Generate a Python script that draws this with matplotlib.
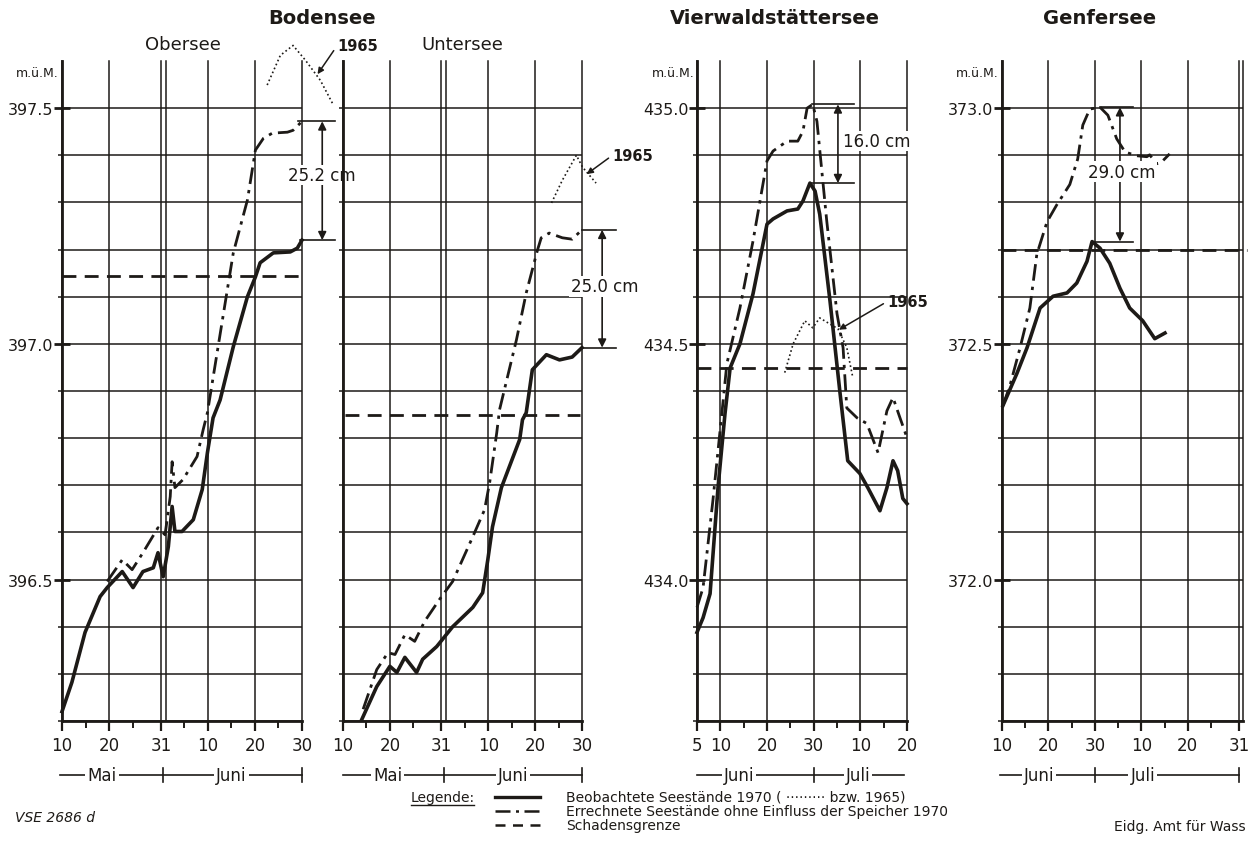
import numpy as np
import matplotlib
matplotlib.use('Agg')
import matplotlib.pyplot as plt
from matplotlib.lines import Line2D

# x axis in days: Bodensee  Mai d -> d, Juni d -> 31 + d
#                 others    Juni d -> d, Juli d -> 30 + d

# ---- Bodensee, Obersee
ober_obs_x = [10, 12.1, 14.9, 18.1, 19.6, 22.8, 25.1, 27.2, 29.4, 30.4, 31.5, 32.6, 33.4, 34.0, 35.5,
              37.9, 39.8, 40.9, 42.1, 43.6, 46.4, 49.4, 51.1, 52.1, 54.9, 58.5, 60.0, 61.0]
ober_obs_y = [396.220, 396.282, 396.388, 396.464, 396.483, 396.517, 396.483, 396.517, 396.525, 396.557,
              396.506, 396.570, 396.655, 396.602, 396.602, 396.627, 396.691, 396.769, 396.843, 396.881,
              396.994, 397.100, 397.142, 397.172, 397.193, 397.195, 397.203, 397.220]
ober_calc_x = [19.6, 22.8, 24.9, 27.2, 30.4, 31.9, 33.0, 33.4, 34.0, 35.7, 38.7, 40.0, 40.9, 46.4,
               49.4, 51.1, 52.8, 54.7, 57.9, 59.1, 60.6, 61.0]
ober_calc_y = [396.496, 396.542, 396.521, 396.557, 396.610, 396.595, 396.676, 396.750, 396.695, 396.712,
               396.761, 396.818, 396.854, 397.193, 397.305, 397.411, 397.436, 397.447, 397.449, 397.453,
               397.468, 397.472]
ober_1965_x = [53.6, 56.4, 59.1, 61.7, 64.9, 67.7]
ober_1965_y = [397.549, 397.612, 397.633, 397.602, 397.559, 397.506]
ober_limit = 397.144

# ---- Bodensee, Untersee
unter_obs_x = [14.0, 17.2, 20.0, 21.5, 23.2, 25.7, 27.0, 30.0, 33.4, 37.7, 39.8, 40.9, 41.9, 43.8,
               47.7, 48.3, 49.1, 50.4, 53.4, 56.2, 58.9, 61.0]
unter_obs_y = [396.203, 396.273, 396.316, 396.303, 396.335, 396.303, 396.331, 396.358, 396.400, 396.441,
               396.472, 396.542, 396.612, 396.695, 396.797, 396.839, 396.854, 396.945, 396.977, 396.966,
               396.972, 396.992]
unter_calc_x = [14.3, 17.2, 19.6, 21.1, 23.2, 25.3, 27.4, 30.6, 33.4, 37.7, 40.2, 41.3, 42.8, 43.4,
                47.0, 49.1, 51.5, 52.3, 54.0, 56.8, 58.9, 61.0]
unter_calc_y = [396.225, 396.309, 396.345, 396.341, 396.383, 396.369, 396.411, 396.458, 396.496, 396.591,
                396.648, 396.706, 396.811, 396.860, 397.008, 397.108, 397.199, 397.225, 397.235, 397.225,
                397.222, 397.242]
unter_1965_x = [54.5, 56.8, 59.8, 61.1, 64.0]
unter_1965_y = [397.299, 397.347, 397.400, 397.375, 397.341]
unter_limit = 396.850

# ---- Vierwaldstättersee
vier_obs_x = [5.0, 6.3, 7.8, 9.5, 11.0, 12.1, 14.2, 17.0, 20.0, 21.3, 24.3, 26.6, 27.7, 29.2, 30.3,
              31.3, 33.5, 35.6, 37.3, 39.9, 41.6, 44.2, 45.7, 47.0, 48.0, 49.1, 50.0]
vier_obs_y = [433.888, 433.919, 433.970, 434.195, 434.352, 434.449, 434.500, 434.606, 434.754, 434.765,
              434.782, 434.786, 434.803, 434.841, 434.824, 434.775, 434.591, 434.400, 434.252,
              434.225, 434.195, 434.146, 434.195, 434.252, 434.231, 434.172, 434.161]
vier_calc_x = [5.0, 6.3, 8.4, 10.6, 11.4, 14.2, 17.0, 20.0, 21.3, 24.3, 26.6, 27.7, 28.6, 29.8, 30.7,
               32.8, 35.0, 36.3, 37.1, 39.3, 41.4, 43.8, 45.7, 47.0, 48.5, 50.0]
vier_calc_y = [433.941, 433.983, 434.167, 434.379, 434.458, 434.576, 434.718, 434.888, 434.909, 434.930,
               434.930, 434.951, 435.000, 435.008, 434.972, 434.761, 434.564, 434.492, 434.364, 434.343,
               434.331, 434.269, 434.358, 434.386, 434.343, 434.301]
vier_1965_x = [23.8, 25.6, 28.1, 29.8, 31.3, 33.5, 35.2, 37.1, 38.4]
vier_1965_y = [434.439, 434.500, 434.549, 434.534, 434.555, 434.542, 434.532, 434.492, 434.428]
vier_limit = 434.449

# ---- Genfersee
genf_obs_x = [10.2, 13.2, 15.4, 18.2, 21.0, 24.0, 26.1, 28.3, 29.4, 31.1, 33.2, 35.4, 37.5, 40.3, 42.9, 45.1]
genf_obs_y = [372.369, 372.437, 372.492, 372.576, 372.601, 372.608, 372.629, 372.675, 372.717, 372.703,
              372.671, 372.618, 372.576, 372.549, 372.511, 372.523]
genf_calc_x = [10.2, 11.7, 13.9, 16.0, 17.5, 19.7, 21.8, 24.6, 26.3, 27.4, 28.9, 31.1, 32.8, 34.7, 36.5,
               39.0, 41.2, 41.8, 43.3, 44.4, 46.1]
genf_calc_y = [372.369, 372.411, 372.492, 372.576, 372.690, 372.759, 372.795, 372.838, 372.892, 372.964,
               372.998, 373.002, 372.985, 372.935, 372.907, 372.899, 372.897, 372.901, 372.882, 372.886,
               372.903]
genf_limit = 372.700

W, H = 1249, 845
INK = '#1d1a17'
plt.rcParams['font.family'] = ['DejaVu Sans']
plt.rcParams['text.color'] = INK

fig = plt.figure(figsize=(W / 100, H / 100), dpi=100)
fig.patch.set_facecolor('white')


def add_panel(left_px, right_px):
    top_px, bot_px = 62, 722
    return fig.add_axes([left_px / W, 1 - bot_px / H, (right_px - left_px) / W, (bot_px - top_px) / H])


def setup(ax, xlim, ylim, xmajor, xlabels, xminor, ygrid, ymajor, ylabels, doubles):
    ax.set_xlim(xlim)
    ax.set_ylim(ylim)
    ax.patch.set_alpha(0)
    for s in ['top', 'right']:
        ax.spines[s].set_visible(False)
    for s in ['left', 'bottom']:
        ax.spines[s].set_linewidth(2)
        ax.spines[s].set_color(INK)
    for x in list(xmajor) + doubles:
        ax.axvline(x, color=INK, lw=1.1, zorder=1, clip_on=False)
    for y in ygrid:
        ax.axhline(y, color=INK, lw=1.1, zorder=1)
    ax.set_xticks(xmajor)
    ax.set_xticklabels(xlabels, fontsize=12)
    ax.set_xticks(xminor, minor=True)
    ax.tick_params(axis='x', which='major', direction='out', length=7, width=1.6, pad=4, colors=INK)
    ax.tick_params(axis='x', which='minor', direction='out', length=5, width=1.4, colors=INK)
    ax.set_yticks(ymajor)
    ax.set_yticklabels(ylabels, fontsize=11.5)
    ax.set_yticks([y for y in ygrid if min([abs(y - m) for m in ymajor] + [1]) > 1e-6], minor=True)
    ax.tick_params(axis='y', which='major', direction='inout', length=12, width=2, pad=0, colors=INK)
    ax.tick_params(axis='y', which='minor', direction='out', length=3, width=1.1, colors=INK)


def month_bar(ax, start, end, labels, boundary, end_tick):
    tr = ax.get_xaxis_transform()
    yb = -0.082
    ax.plot([start, end], [yb, yb], color=INK, lw=1.2, transform=tr, clip_on=False)
    ax.plot([boundary, boundary], [yb - 0.011, yb + 0.011], color=INK, lw=1.2, transform=tr, clip_on=False)
    if end_tick:
        ax.plot([end, end], [yb - 0.011, yb + 0.011], color=INK, lw=1.2, transform=tr, clip_on=False)
    for text, x in labels:
        ax.text(x, yb, text, transform=tr, ha='center', va='center', fontsize=12,
                bbox=dict(facecolor='white', edgecolor='none', pad=1.5))


def series(ax, ox, oy, cx, cy, limit, lim_x):
    ax.plot(ox, oy, color=INK, lw=2.6, solid_joinstyle='round', zorder=4, clip_on=False)
    ax.plot(cx, cy, color=INK, lw=2.0, linestyle=(0, (6, 2.2, 1.2, 2.2)), zorder=4, clip_on=False)
    ax.plot(lim_x, [limit, limit], color=INK, lw=2.0, linestyle=(0, (5, 3)), zorder=3, clip_on=False)


def diff_arrow(ax, x, top, bottom, x0_top, x0_bot, x1, text, tx, ty, ha='center'):
    ax.plot([x0_top, x1], [top, top], color=INK, lw=1.2, clip_on=False, zorder=5)
    ax.plot([x0_bot, x1], [bottom, bottom], color=INK, lw=1.2, clip_on=False, zorder=5)
    ax.annotate('', xy=(x, top), xytext=(x, bottom), annotation_clip=False,
                arrowprops=dict(arrowstyle='<|-|>', color=INK, lw=1.2, mutation_scale=12,
                                shrinkA=0, shrinkB=0), zorder=5)
    ax.text(tx, ty, text, ha=ha, va='center', fontsize=12, zorder=6,
            bbox=dict(facecolor='white', edgecolor='none', pad=1.0))


def label_1965(ax, xy, xytext):
    ax.annotate('1965', xy=xy, xytext=xytext, fontsize=10.5, fontweight='bold', va='center',
                ha='left', annotation_clip=False,
                arrowprops=dict(arrowstyle='-|>', color=INK, lw=1.1, mutation_scale=9,
                                shrinkA=1, shrinkB=0, relpos=(0, 0.5)))


def unit_label(ax):
    ax.text(-0.012, 0.982, 'm.ü.M.', transform=ax.transAxes, fontsize=9, ha='right', va='center')


# ---------------- Obersee
bod_xmajor = [10, 20, 31, 41, 51, 61]
bod_xlabels = ['10', '20', '31', '10', '20', '30']
bod_xminor = [15, 25, 36, 46, 56]
bod_ygrid = list(np.round(np.arange(396.2, 397.51, 0.1), 1))

ax1 = add_panel(62, 302)
setup(ax1, (10, 61), (396.2, 397.6), bod_xmajor, bod_xlabels, bod_xminor, bod_ygrid,
      [396.5, 397.0, 397.5], ['396.5', '397.0', '397.5'], [32])
series(ax1, ober_obs_x, ober_obs_y, ober_calc_x, ober_calc_y, ober_limit, [10, 60.6])
ax1.plot(ober_1965_x, ober_1965_y, color=INK, lw=1.2, linestyle=(0, (1, 1.6)), clip_on=False, zorder=4)
diff_arrow(ax1, 65.3, ober_calc_y[-1], ober_obs_y[-1], 60.2, 60.6, 68.1, '25.2 cm', 65.3,
           (ober_calc_y[-1] + ober_obs_y[-1]) / 2 + 0.012)
label_1965(ax1, (64.3, 397.572), (68.5, 397.633))
month_bar(ax1, 9.6, 61, [('Mai', 18.5), ('Juni', 46.0)], 31.5, True)
unit_label(ax1)

# ---------------- Untersee
ax2 = add_panel(343, 582)
setup(ax2, (10, 61), (396.2, 397.6), bod_xmajor, bod_xlabels, bod_xminor, bod_ygrid,
      [], [], [32])
series(ax2, unter_obs_x, unter_obs_y, unter_calc_x, unter_calc_y, unter_limit, [10.4, 60.6])
ax2.plot(unter_1965_x, unter_1965_y, color=INK, lw=1.2, linestyle=(0, (1, 1.6)), clip_on=False, zorder=4)
diff_arrow(ax2, 65.3, unter_calc_y[-1], unter_obs_y[-1], 61, 61, 68.3, '25.0 cm', 65.8,
           (unter_calc_y[-1] + unter_obs_y[-1]) / 2 + 0.005)
label_1965(ax2, (62.0, 397.36), (67.5, 397.40))
month_bar(ax2, 10, 61, [('Mai', 19.5), ('Juni', 46.3)], 31.5, True)

# ---------------- Vierwaldstättersee
ax3 = add_panel(697, 907)
setup(ax3, (5, 50), (433.7, 435.1), [5, 10, 20, 30, 40, 50], ['5', '10', '20', '30', '10', '20'],
      [15, 25, 35, 45], list(np.round(np.arange(433.7, 435.01, 0.1), 1)),
      [434.0, 434.5, 435.0], ['434.0', '434.5', '435.0'], [])
series(ax3, vier_obs_x, vier_obs_y, vier_calc_x, vier_calc_y, vier_limit, [5, 50])
ax3.plot(vier_1965_x, vier_1965_y, color=INK, lw=1.2, linestyle=(0, (1, 1.6)), clip_on=False, zorder=4)
diff_arrow(ax3, 35.2, max(vier_calc_y), max(vier_obs_y), 29.6, 29.4, 38.6, '16.0 cm', 36.2,
           434.93, ha='left')
label_1965(ax3, (35.4, 434.53), (45.8, 434.59))
month_bar(ax3, 5, 49.3, [('Juni', 14.0), ('Juli', 39.5)], 30, False)
unit_label(ax3)

# ---------------- Genfersee
ax4 = add_panel(1002, 1243)
setup(ax4, (10, 61.9), (371.7, 373.1), [10, 20, 30, 40, 50, 61], ['10', '20', '30', '10', '20', '31'],
      [15, 25, 35, 45, 55], list(np.round(np.arange(371.7, 373.01, 0.1), 1)),
      [372.0, 372.5, 373.0], ['372.0', '372.5', '373.0'], [61.9])
series(ax4, genf_obs_x, genf_obs_y, genf_calc_x, genf_calc_y, genf_limit, [10, 62.8])
diff_arrow(ax4, 35.4, max(genf_calc_y), max(genf_obs_y), 31.1, 29.4, 38.2, '29.0 cm', 35.8, 372.865)
month_bar(ax4, 9.6, 61, [('Juni', 18.0), ('Juli', 40.3)], 30, True)
unit_label(ax4)

# ---------------- titles
fig.text(322 / W, 1 - 18 / H, 'Bodensee', ha='center', va='center', fontsize=14, fontweight='bold')
fig.text(183 / W, 1 - 45 / H, 'Obersee', ha='center', va='center', fontsize=13)
fig.text(462 / W, 1 - 45 / H, 'Untersee', ha='center', va='center', fontsize=13)
fig.text(775 / W, 1 - 18 / H, 'Vierwaldstättersee', ha='center', va='center', fontsize=14, fontweight='bold')
fig.text(1100 / W, 1 - 18 / H, 'Genfersee', ha='center', va='center', fontsize=14, fontweight='bold')

# ---------------- legend
fig.text(411 / W, 1 - 798 / H, 'Legende:', ha='left', va='center', fontsize=10)
fig.add_artist(Line2D([411 / W, 474 / W], [1 - 806 / H] * 2, color=INK, lw=1))
legend_rows = [('Beobachtete Seestände 1970 ( ········· bzw. 1965)', '-', 2.4),
               ('Errechnete Seestände ohne Einfluss der Speicher 1970', (0, (6, 2.2, 1.2, 2.2)), 1.8),
               ('Schadensgrenze', (0, (4, 3)), 1.8)]
for i, (txt, ls, lw) in enumerate(legend_rows):
    yy = 1 - (798 + 14 * i) / H
    fig.add_artist(Line2D([495 / W, 540 / W], [yy, yy], color=INK, lw=lw, linestyle=ls))
    fig.text(566 / W, yy, txt, ha='left', va='center', fontsize=10)

fig.text(15 / W, 1 - 818 / H, 'VSE 2686 d', ha='left', va='center', fontsize=10, style='italic')
fig.text(1246 / W, 1 - 827 / H, 'Eidg. Amt für Wass', ha='right', va='center', fontsize=10)

fig.savefig('out.png', dpi=100, facecolor='white')
